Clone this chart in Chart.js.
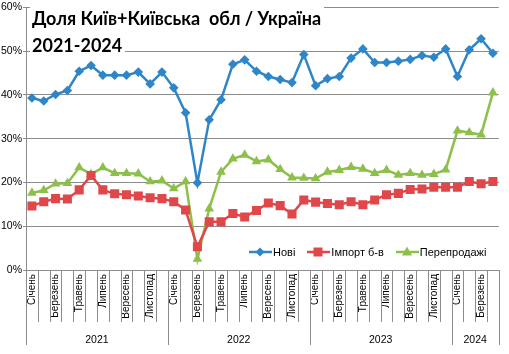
<!DOCTYPE html>
<html>
<head>
<meta charset="utf-8">
<script src="https://cdn.jsdelivr.net/npm/chart.js@4.4.1/dist/chart.umd.min.js"></script>
<style>
  body { margin: 0; background: #fff; }
  #wrap { position: relative; width: 509px; height: 354px; }
  #title { position: absolute; left: 30px; top: 5px; font: bold 18px Lato, "Open Sans", sans-serif;
           line-height: 27px; color: #000; }
  #title span { background: #fff; padding: 0 3px 0 2px; }
  #legend { position: absolute; left: 249px; top: 246px; font: 11px "Liberation Sans", Arial, sans-serif;
            color: #000; display: flex; align-items: center; white-space: nowrap; }
  #legend span.item { display: flex; align-items: center; margin-right: 12px; }
  #legend svg { margin-right: 1px; }
</style>
</head>
<body>
<div id="wrap">
  <canvas id="chart" width="509" height="354"></canvas>
  <div id="title"><span>Доля Київ+Київська&nbsp; обл / Україна</span><br><span>2021-2024</span></div>
  <div id="legend"></div>
</div>
<script>
// місяці та роки
const months = ['Січень', 'Лютий', 'Березень', 'Квітень', 'Травень', 'Червень', 'Липень', 'Серпень', 'Вересень', 'Жовтень', 'Листопад', 'Грудень'];
const years = ['2021', '2022', '2023', '2024'];
const monthsPerYear = [12, 12, 12, 4];

// частки, %
const novi = [39.3, 38.6, 40.1, 41.0, 45.4, 46.7, 44.5, 44.5, 44.5, 45.2, 42.5, 45.2,
              41.6, 35.9, 19.9, 34.3, 38.9, 47.0, 48.0, 45.4, 44.2, 43.5, 42.8, 49.2,
              42.1, 43.7, 44.2, 48.4, 50.5, 47.4, 47.4, 47.7, 48.1, 49.0, 48.6, 50.5,
              44.2, 50.3, 52.8, 49.5];
const importBv = [14.6, 15.6, 16.3, 16.2, 18.3, 21.6, 18.3, 17.4, 17.2, 16.9, 16.5, 16.3,
                  15.6, 13.7, 5.3, 11.0, 11.0, 12.9, 12.1, 13.6, 15.3, 14.7, 12.8, 16.0,
                  15.5, 15.2, 14.9, 15.6, 14.9, 16.0, 17.2, 17.5, 18.4, 18.5, 18.9, 18.9,
                  18.9, 20.2, 19.7, 20.2];
const pereprodazhi = [17.6, 18.2, 19.7, 19.8, 23.4, 21.9, 23.4, 22.1, 22.1, 22.0, 20.2, 20.4,
                      18.6, 20.2, 2.5, 14.0, 22.4, 25.4, 26.3, 24.8, 25.2, 23.0, 21.1, 21.0,
                      20.9, 22.4, 22.8, 23.5, 23.1, 22.1, 22.8, 21.7, 22.1, 21.7, 21.9, 22.9,
                      31.8, 31.4, 30.9, 40.5];

const labels = [];
const yearStart = [];
monthsPerYear.forEach(n => { yearStart.push(labels.length); for (let m = 0; m < n; m++) labels.push(months[m]); });
const yearMid = monthsPerYear.map((n, k) => yearStart[k] + n / 2 - 0.5);

const GRID = '#8c8c8c';
const series = [
  { label: 'Нові', data: novi, color: '#2E86C8', point: 'rectRot', r: 4.8 },
  { label: 'Імпорт б-в', data: importBv, color: '#E0474B', point: 'rect', r: 6.4 },
  { label: 'Перепродажі', data: pereprodazhi, color: '#8DC04A', point: 'triangle', r: 5.6 }
];

// лінії поділу категорій під віссю
const tickLines = {
  id: 'tickLines',
  afterDraw(chart) {
    const x = chart.scales.x, x2 = chart.scales.x2, ctx = chart.ctx;
    ctx.save();
    ctx.strokeStyle = GRID;
    ctx.lineWidth = 1;
    for (let j = 0; j <= labels.length; j++) {
      const px = Math.round(x.getPixelForValue(j - 0.5)) + 0.5;
      const isYear = yearStart.includes(j) || j === labels.length;
      ctx.beginPath();
      ctx.moveTo(px, x.top);
      ctx.lineTo(px, isYear ? x2.bottom - 1 : x.bottom);
      ctx.stroke();
    }
    ctx.restore();
  }
};

new Chart(document.getElementById('chart'), {
  type: 'line',
  data: {
    labels,
    datasets: series.map(s => ({
      label: s.label, data: s.data,
      borderColor: s.color, backgroundColor: s.color, borderWidth: 2.5,
      pointStyle: s.point, pointRadius: s.r, pointHoverRadius: s.r,
      pointBorderWidth: 0, tension: 0
    }))
  },
  options: {
    responsive: false,
    animation: false,
    layout: { padding: { top: 5, right: 3, left: 0, bottom: 8 } },
    plugins: { legend: { display: false }, tooltip: { enabled: false } },
    scales: {
      y: {
        min: 0, max: 60,
        ticks: { stepSize: 10, callback: v => v + '%', color: '#000', padding: 1,
                 font: { family: 'Liberation Sans', size: 10.5 } },
        grid: { color: GRID, tickLength: 3 },
        border: { color: GRID }
      },
      x: {
        offset: true,
        weight: 0,
        afterFit: axis => { axis.height = 52; },
        ticks: { autoSkip: false, minRotation: 90, maxRotation: 90, color: '#000', padding: 4,
                 callback: (v, i) => i % 2 === 0 ? labels[i] : '',
                 font: { family: 'Liberation Sans', size: 10 } },
        grid: { display: false, drawTicks: false },
        border: { color: GRID }
      },
      x2: {
        type: 'linear', position: 'bottom', weight: 1,
        min: -0.5, max: labels.length - 0.5,
        afterFit: axis => { axis.height = 24; },
        afterBuildTicks: axis => { axis.ticks = yearMid.map(v => ({ value: v })); },
        ticks: { color: '#000', padding: 12, maxRotation: 0,
                 callback: v => years[yearMid.indexOf(v)],
                 font: { family: 'Liberation Sans', size: 10.5 } },
        grid: { display: false, drawTicks: false },
        border: { display: false }
      }
    }
  },
  plugins: [tickLines]
});

// легенда
const shapes = {
  rectRot: c => `<polygon points="11,1.5 15.5,6 11,10.5 6.5,6" fill="${c}"/>`,
  rect: c => `<rect x="6.5" y="1.5" width="9" height="9" fill="${c}"/>`,
  triangle: c => `<polygon points="11,0.5 16,9.5 6,9.5" fill="${c}"/>`
};
document.getElementById('legend').innerHTML = series.map(s =>
  `<span class="item"><svg width="23" height="12"><line x1="0" y1="6" x2="23" y2="6" stroke="${s.color}" stroke-width="2.5"/>${shapes[s.point](s.color)}</svg>${s.label}</span>`
).join('');
</script>
</body>
</html>
